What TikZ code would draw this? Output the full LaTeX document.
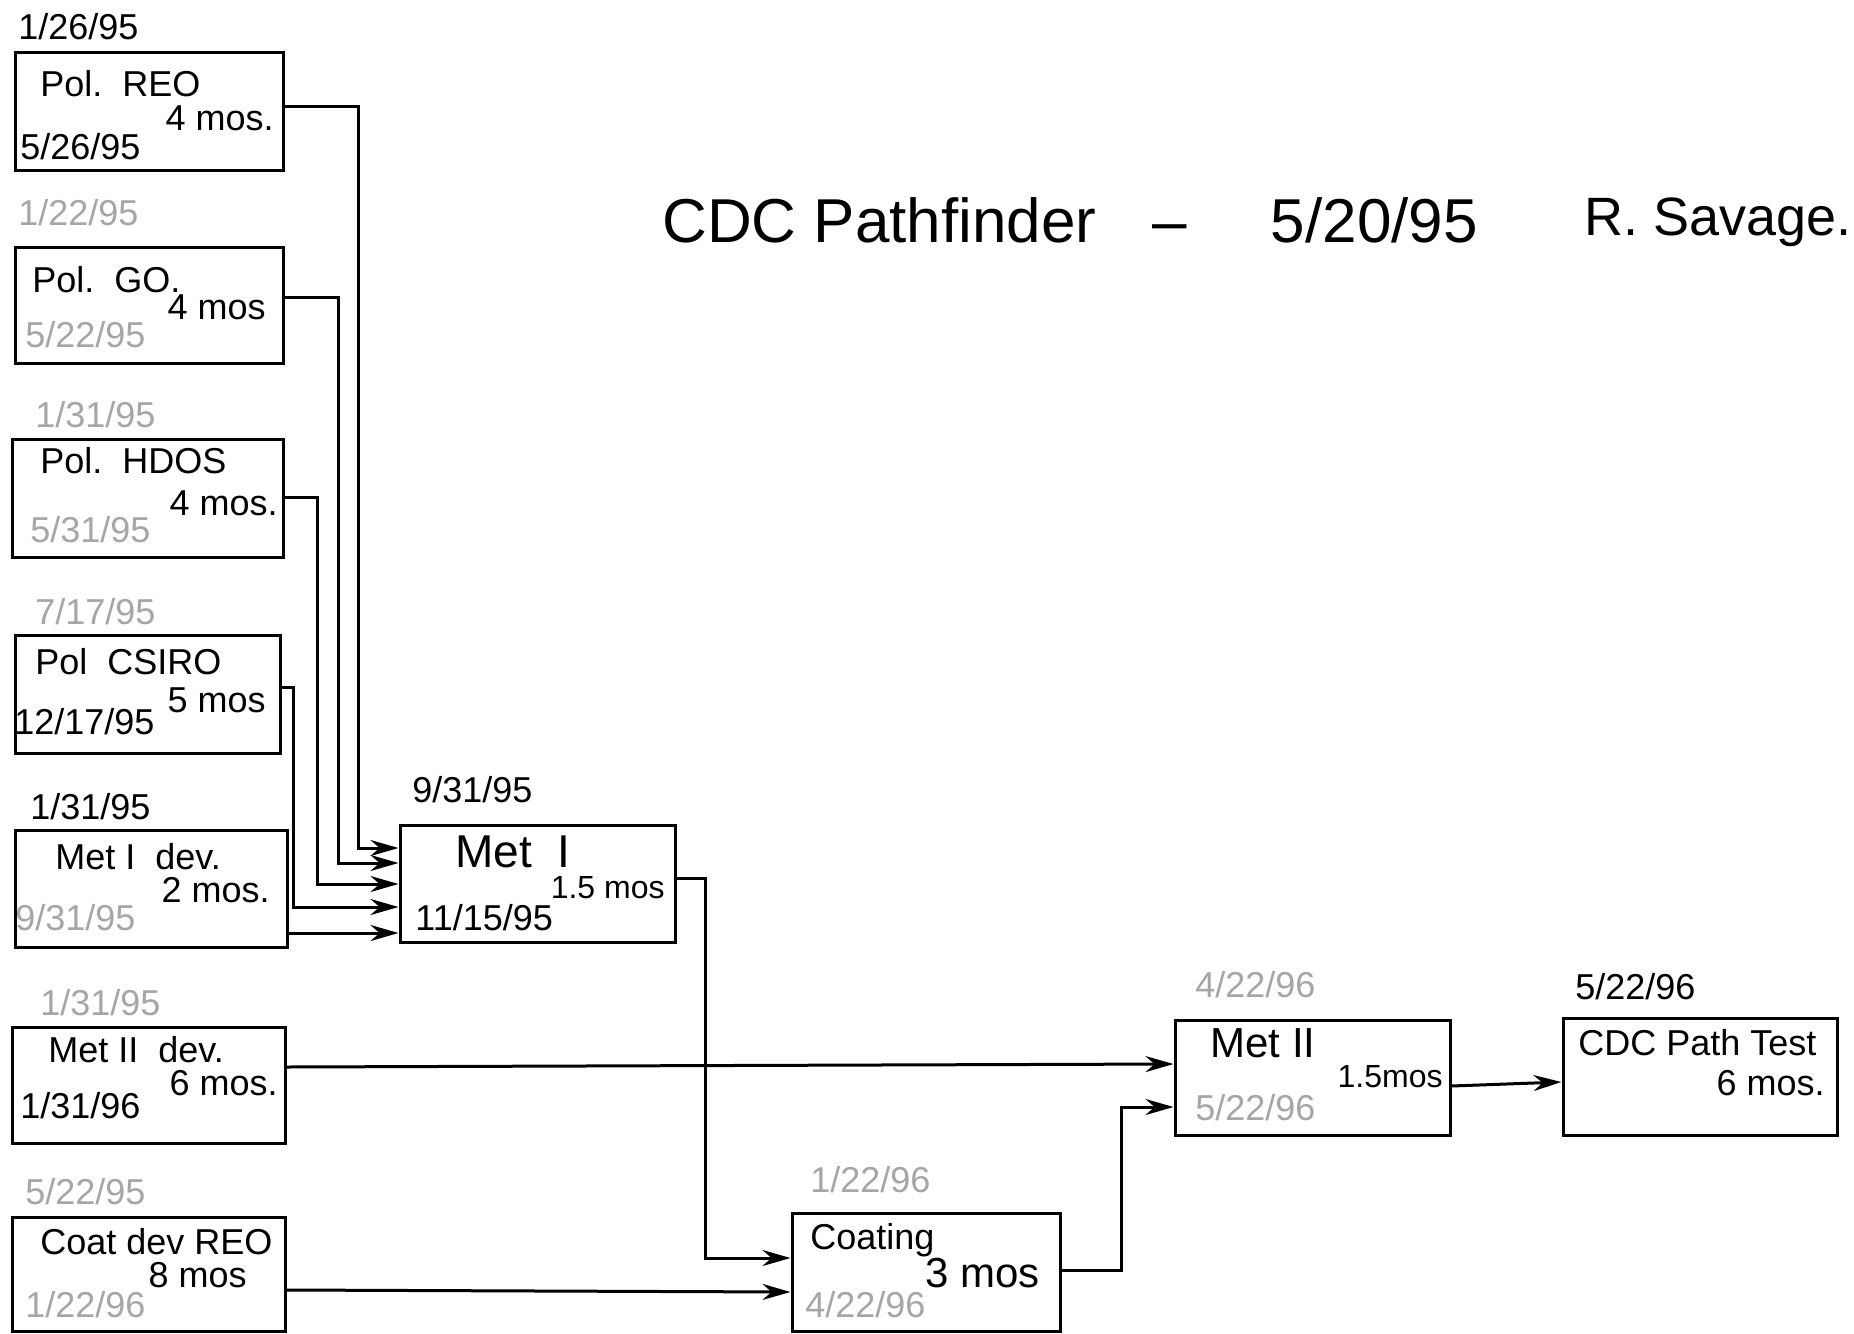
\documentclass[tikz,border=0pt]{standalone}
\usepackage{fontspec}
\setmainfont{Liberation Sans}
\usetikzlibrary{arrows.meta,fit}
\begin{document}
\begin{tikzpicture}[x=0.5pt,y=-0.5pt]
\tikzset{
 box/.style={draw, line width=1.5pt, inner sep=0pt, rectangle},
 lbl/.style={anchor=west, inner sep=0pt, font=\fontsize{18}{20}\selectfont},
 dur/.style={lbl, anchor=east},
 faded/.style={lbl, text=black!35},
 conn/.style={line width=1.5pt},
 arr/.style={-{Stealth[length=14pt,width=8pt]}}
}
\fill[white] (0,0) rectangle (1854,1334);
\useasboundingbox (0,0) rectangle (1854,1334);

% title
\node[lbl, font=\fontsize{31}{34}\selectfont] (title) at (662,220) {CDC Pathfinder\hspace{28pt}–\hspace{42pt}5/20/95};
\node[lbl, font=\fontsize{27}{30}\selectfont] (author) at (1584,222) {R. Savage.};

% boxes
\node[box, fit={(15,52) (283,170)}] (reo) {};
\node[box, fit={(15,247) (283,363)}] (go) {};
\node[box, fit={(12,439) (283,557)}] (hdos) {};
\node[box, fit={(15,635) (280,753)}] (csiro) {};
\node[box, fit={(15,830) (287,947)}] (m1dev) {};
\node[box, fit={(12,1027) (285,1143)}] (m2dev) {};
\node[box, fit={(12,1217) (285,1331)}] (coatdev) {};
\node[box, fit={(400,825) (675,942)}] (met1) {};
\node[box, fit={(792,1213) (1060,1331)}] (coat) {};
\node[box, fit={(1175,1020) (1450,1135)}] (met2) {};
\node[box, fit={(1563,1018) (1837,1135)}] (test) {};

% labels: Pol. REO
\node[lbl] (reo-s) at (18,27) {1/26/95};
\node[lbl] (reo-n) at (40,84) {Pol.\ \ REO};
\node[dur] (reo-m) at (274,118) {4 mos.};
\node[lbl] (reo-e) at (20,147) {5/26/95};
% Pol. GO
\node[faded] (go-s) at (18,213) {1/22/95};
\node[lbl] (go-n) at (32,280) {Pol.\ \ GO.};
\node[dur] (go-m) at (266,307) {4 mos};
\node[faded] (go-e) at (25,335) {5/22/95};
% Pol. HDOS
\node[faded] (hdos-s) at (35,415) {1/31/95};
\node[lbl] (hdos-n) at (40,461) {Pol.\ \ HDOS};
\node[dur] (hdos-m) at (278,503) {4 mos.};
\node[faded] (hdos-e) at (30,530) {5/31/95};
% Pol CSIRO
\node[faded] (csiro-s) at (35,612) {7/17/95};
\node[lbl] (csiro-n) at (35,662) {Pol\ \ CSIRO};
\node[dur] (csiro-m) at (266,700) {5 mos};
\node[lbl] (csiro-e) at (14,722) {12/17/95};
% Met I dev.
\node[lbl] (m1dev-s) at (30,807) {1/31/95};
\node[lbl] (m1dev-n) at (55,857) {Met I\ \ dev.};
\node[dur] (m1dev-m) at (270,890) {2 mos.};
\node[faded] (m1dev-e) at (15,918) {9/31/95};
% Met II dev.
\node[faded] (m2dev-s) at (40,1003) {1/31/95};
\node[lbl] (m2dev-n) at (48,1050) {Met II\ \ dev.};
\node[dur] (m2dev-m) at (278,1083) {6 mos.};
\node[lbl] (m2dev-e) at (20,1106) {1/31/96};
% Coat dev REO
\node[faded] (coatdev-s) at (25,1192) {5/22/95};
\node[lbl] (coatdev-n) at (40,1242) {Coat dev REO};
\node[dur] (coatdev-m) at (247,1275) {8 mos};
\node[faded] (coatdev-e) at (25,1305) {1/22/96};
% Met I
\node[lbl] (met1-s) at (412,790) {9/31/95};
\node[lbl, font=\fontsize{23}{25}\selectfont] (met1-n) at (455,852) {Met\ \ I};
\node[dur, font=\fontsize{16}{18}\selectfont] (met1-m) at (665,888) {1.5 mos};
\node[lbl] (met1-e) at (415,918) {11/15/95};
% Coating
\node[faded] (coat-s) at (810,1180) {1/22/96};
\node[lbl] (coat-n) at (810,1240) {Coating};
\node[dur, font=\fontsize{21}{23}\selectfont] (coat-m) at (1040,1273) {3 mos};
\node[faded] (coat-e) at (805,1305) {4/22/96};
% Met II
\node[faded] (met2-s) at (1195,985) {4/22/96};
\node[lbl, font=\fontsize{21}{23}\selectfont] (met2-n) at (1210,1043) {Met II};
\node[dur, font=\fontsize{16}{18}\selectfont] (met2-m) at (1443,1077) {1.5mos};
\node[faded] (met2-e) at (1195,1108) {5/22/96};
% CDC Path Test
\node[lbl] (test-s) at (1575,987) {5/22/96};
\node[lbl] (test-n) at (1578,1043) {CDC Path Test};
\node[dur] (test-m) at (1825,1083) {6 mos.};

% connectors
\draw[conn,arr] (reo.east |- 0,106) -| (358,848) -- (met1.west |- 0,848);
\draw[conn,arr] (go.east |- 0,297) -| (338,863) -- (met1.west |- 0,863);
\draw[conn,arr] (hdos.east |- 0,497) -| (317,884) -- (met1.west |- 0,884);
\draw[conn,arr] (csiro.east |- 0,687) -| (293,907) -- (met1.west |- 0,907);
\draw[conn,arr] (m1dev.east |- 0,933) -- (met1.west |- 0,933);
\draw[conn,arr] (met1.east |- 0,878) -| (705,1258) -- (coat.west |- 0,1258);
\draw[conn,arr] (coatdev.east |- 0,1290) -- (coat.west |- 0,1292);
\draw[conn,arr] (m2dev.east |- 0,1067) -- (met2.west |- 0,1064);
\draw[conn,arr] (coat.east |- 0,1270) -| (1121,1107) -- (met2.west |- 0,1107);
\draw[conn,arr] (met2.east |- 0,1086) -- (test.west |- 0,1082);
\end{tikzpicture}
\end{document}
